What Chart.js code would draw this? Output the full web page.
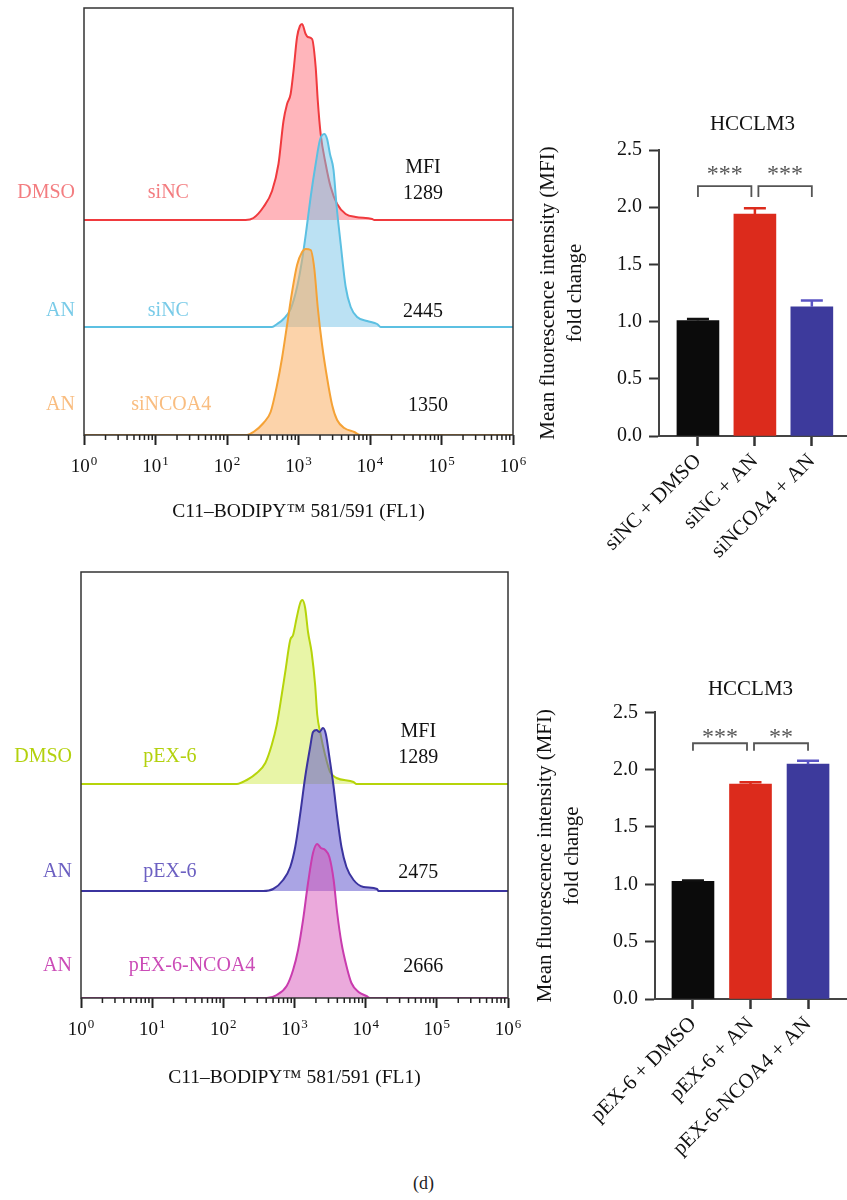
<!DOCTYPE html>
<html>
<head>
<meta charset="utf-8">
<script src="https://cdn.jsdelivr.net/npm/chart.js@4.4.1/dist/chart.umd.min.js"></script>
<style>
    body {
        margin: 0;
        background: #fff;
        width: 847px;
        height: 1200px;
        position: relative;
        overflow: hidden;
        font-family: "Liberation Serif", serif;
    }
    canvas {
        position: absolute;
    }
    #caption {
        position: absolute;
        left: 0;
        width: 847px;
        top: 1173px;
        text-align: center;
        font-size: 18px;
        color: #222;
    }
</style>
</head>
<body>

<canvas id="histTop" width="530" height="540" style="left:0;top:0"></canvas>
<canvas id="barTop" width="317" height="470" style="left:530px;top:100px"></canvas>
<canvas id="histBottom" width="530" height="540" style="left:0;top:560px"></canvas>
<canvas id="barBottom" width="317" height="500" style="left:530px;top:660px"></canvas>
<div id="caption">(d)</div>

<script>

// ---- data ----

// decades of the FL1 axis, drawn as 10^n
const decadeExponents = ["0", "1", "2", "3", "4", "5", "6"];

// flow histograms: x = log10(FL1), y = event count (a.u.)
const dmsoSiNC_x = [2.26, 2.37, 2.51, 2.63, 2.72, 2.79, 2.84, 2.89, 2.93, 2.98, 3.02, 3.05, 3.10, 3.13, 3.19, 3.24, 3.27, 3.31, 3.38, 3.45, 3.54, 3.66, 3.80, 4.03, 4.06];
const dmsoSiNC_y = [0, 2, 13, 29, 56, 99, 116, 126, 149, 183, 194, 196, 186, 183, 181, 153, 119, 86, 56, 33, 16, 6, 3, 1, 0];

const anSiNC_x = [2.63, 2.70, 2.79, 2.89, 2.98, 3.05, 3.11, 3.17, 3.24, 3.30, 3.36, 3.40, 3.44, 3.49, 3.53, 3.59, 3.66, 3.73, 3.82, 3.96, 4.10, 4.15];
const anSiNC_y = [0, 3, 8, 18, 40, 67, 97, 130, 163, 187, 193, 188, 173, 157, 123, 83, 40, 20, 10, 6, 3, 0];

const anSiNCOA4_x = [2.28, 2.37, 2.51, 2.61, 2.70, 2.77, 2.84, 2.91, 2.98, 3.05, 3.10, 3.17, 3.22, 3.27, 3.33, 3.40, 3.47, 3.54, 3.64, 3.78, 3.87];
const anSiNCOA4_y = [0, 3, 12, 23, 50, 77, 110, 143, 170, 183, 186, 185, 167, 127, 90, 57, 30, 15, 7, 3, 0];

const dmsoPEX_x = [2.19, 2.33, 2.47, 2.59, 2.68, 2.75, 2.82, 2.87, 2.94, 2.98, 3.03, 3.08, 3.11, 3.15, 3.19, 3.24, 3.29, 3.32, 3.36, 3.43, 3.50, 3.59, 3.83, 3.87];
const dmsoPEX_y = [0, 4, 11, 21, 39, 59, 89, 112, 144, 149, 166, 181, 184, 176, 152, 132, 99, 69, 52, 29, 12, 6, 2, 0];

const anPEX_x = [2.56, 2.70, 2.84, 2.94, 3.01, 3.08, 3.15, 3.22, 3.26, 3.31, 3.35, 3.40, 3.44, 3.49, 3.55, 3.60, 3.66, 3.73, 3.83, 3.97, 4.16, 4.18];
const anPEX_y = [0, 2, 11, 24, 44, 77, 114, 144, 159, 161, 159, 163, 157, 134, 104, 74, 44, 24, 11, 4, 2, 0];

const anPEXNCOA4_x = [2.61, 2.75, 2.89, 2.98, 3.05, 3.12, 3.19, 3.26, 3.32, 3.37, 3.43, 3.49, 3.55, 3.60, 3.66, 3.73, 3.80, 3.90, 4.01, 4.06];
const anPEXNCOA4_y = [0, 3, 12, 28, 48, 78, 115, 145, 154, 150, 148, 141, 118, 85, 55, 32, 15, 6, 2, 0];

const mfiTop = ["1289", "2445", "1350"];
const mfiBottom = ["1289", "2475", "2666"];

// bar charts
const barCatsTop = ["siNC + DMSO", "siNC + AN", "siNCOA4 + AN"];
const barMeansTop = [1.01, 1.94, 1.13];
const barErrTop = [0.013, 0.05, 0.055];
const sigTop = ["***", "***"];

const barCatsBottom = ["pEX-6 + DMSO", "pEX-6 + AN", "pEX-6-NCOA4 + AN"];
const barMeansBottom = [1.025, 1.875, 2.048];
const barErrBottom = [0.008, 0.015, 0.03];
const sigBottom = ["***", "**"];

const yTicks = [0, 0.5, 1.0, 1.5, 2.0, 2.5];

// ---- styling ----

const FONT = "'Liberation Serif', 'Times New Roman', serif";
const barColors = ["#0b0b0b", "#dc2b1c", "#3d3a9c"];
const errColors = ["#111111", "#dc2b1c", "#5a54c4"];


function curve(xs, ys, base) {

    const pts = [{x: 0, y: base}];

    xs.forEach((x, i) => {
        pts.push({x: x, y: base + ys[i]});
    });

    pts.push({x: 6, y: base});

    return pts;
}

function histSet(xs, ys, base, line, fill) {

    return {
        data: curve(xs, ys, base),
        borderColor: line,
        backgroundColor: fill,
        borderWidth: 2,
        pointRadius: 0,
        cubicInterpolationMode: "monotone",
        fill: {value: base},
    };
}


// frame, log ticks labels, minor ticks and the sample / MFI text
const histDecor = {

    id: "histDecor",

    afterDatasetsDraw(chart, args, opts) {

        const ctx = chart.ctx;
        const area = chart.chartArea;
        const xs = chart.scales.x;
        const ys = chart.scales.y;

        ctx.save();

        ctx.strokeStyle = "#333";
        ctx.lineWidth = 1.5;
        ctx.strokeRect(area.left, area.top, area.right - area.left, area.bottom - area.top);

        // minor decade ticks
        ctx.strokeStyle = "#222";
        ctx.lineWidth = 1.5;
        for (let d = 0; d < 6; d++) {
            for (let k = 2; k <= 9; k++) {
                const px = xs.getPixelForValue(d + Math.log10(k));
                ctx.beginPath();
                ctx.moveTo(px, area.bottom);
                ctx.lineTo(px, area.bottom + 5);
                ctx.stroke();
            }
        }

        // 10^n labels
        ctx.fillStyle = "#111";
        ctx.textAlign = "left";
        ctx.textBaseline = "alphabetic";
        const base = area.bottom + 37;
        decadeExponents.forEach((e, i) => {
            ctx.font = "19px " + FONT;
            const w1 = ctx.measureText("10").width;
            ctx.font = "13px " + FONT;
            const w2 = ctx.measureText(e).width;
            const x0 = xs.getPixelForValue(i) - (w1 + w2 + 1) / 2;
            ctx.font = "19px " + FONT;
            ctx.fillText("10", x0, base);
            ctx.font = "13px " + FONT;
            ctx.fillText(e, x0 + w1 + 1, base - 7);
        });

        ctx.font = "20px " + FONT;
        ctx.textBaseline = "middle";

        opts.rows.forEach((row) => {

            const y = ys.getPixelForValue(row.textY);

            ctx.fillStyle = row.color;
            ctx.textAlign = "right";
            ctx.fillText(row.group, area.left - 9, y);

            ctx.textAlign = "center";
            ctx.fillText(row.sample, xs.getPixelForValue(row.sampleX), y);

            ctx.fillStyle = "#111";
            ctx.fillText(row.mfi, xs.getPixelForValue(row.mfiX), y + 1);

            if (row.header) {
                ctx.fillText("MFI", xs.getPixelForValue(row.mfiX), y - 25);
            }
        });

        ctx.restore();
    },
};


function histogram(id, sets, rows, yMax, pad, axisHeight, titlePad) {

    return new Chart(document.getElementById(id), {

        type: "line",

        data: {datasets: sets},

        options: {

            responsive: false,
            animation: false,

            layout: {padding: pad},

            plugins: {
                legend: {display: false},
                tooltip: {enabled: false},
                histDecor: {rows: rows},
            },

            scales: {

                x: {
                    type: "linear",
                    min: 0,
                    max: 6,
                    afterBuildTicks: (scale) => {
                        scale.ticks = decadeExponents.map((_, i) => ({value: i}));
                    },
                    afterFit: (scale) => {
                        scale.height = axisHeight;
                    },
                    ticks: {display: false},
                    grid: {
                        drawOnChartArea: false,
                        tickLength: 10,
                        tickWidth: 2,
                        tickColor: "#222",
                    },
                    border: {display: false},
                    title: {
                        display: true,
                        text: "C11–BODIPY™ 581/591 (FL1)",
                        color: "#111",
                        font: {family: FONT, size: 19.5},
                        padding: {top: 0, bottom: titlePad},
                    },
                },

                y: {
                    display: false,
                    min: 0,
                    max: yMax,
                },
            },
        },

        plugins: [histDecor],
    });
}


// error bars + significance brackets
const barDecor = {

    id: "barDecor",

    afterDatasetsDraw(chart, args, opts) {

        const ctx = chart.ctx;
        const xs = chart.scales.x;
        const ys = chart.scales.y;
        const meta = chart.getDatasetMeta(0);

        ctx.save();

        meta.data.forEach((bar, i) => {

            const top = ys.getPixelForValue(opts.means[i] + opts.errs[i]);

            ctx.strokeStyle = errColors[i];
            ctx.lineWidth = 2.5;
            ctx.beginPath();
            ctx.moveTo(bar.x, bar.y);
            ctx.lineTo(bar.x, top);
            ctx.moveTo(bar.x - 11, top);
            ctx.lineTo(bar.x + 11, top);
            ctx.stroke();
        });

        ctx.strokeStyle = "#555";
        ctx.fillStyle = "#555";
        ctx.lineWidth = 1.8;
        ctx.font = "24px " + FONT;
        ctx.textAlign = "center";
        ctx.textBaseline = "alphabetic";

        opts.stars.forEach((txt, i) => {

            const x1 = xs.getPixelForValue(i) + (i === 1 ? 3.5 : 0);
            const x2 = xs.getPixelForValue(i + 1) - (i === 0 ? 3.5 : 0);
            const yh = ys.getPixelForValue(opts.bracket[0]);
            const yl = ys.getPixelForValue(opts.bracket[1]);

            ctx.beginPath();
            ctx.moveTo(x1, yl);
            ctx.lineTo(x1, yh);
            ctx.lineTo(x2, yh);
            ctx.lineTo(x2, yl);
            ctx.stroke();

            ctx.fillText(txt, (x1 + x2) / 2, ys.getPixelForValue(opts.bracket[2]) + 13);
        });

        ctx.restore();
    },
};


function barChart(id, cats, means, errs, stars, cfg) {

    return new Chart(document.getElementById(id), {

        type: "bar",

        data: {
            datasets: [{
                data: means.map((m, i) => ({x: i, y: m})),
                backgroundColor: barColors,
                borderWidth: 0,
                barThickness: 42,
            }],
        },

        options: {

            responsive: false,
            animation: false,

            layout: {padding: {left: 0, right: 1, top: 0, bottom: 0}},

            plugins: {
                legend: {display: false},
                tooltip: {enabled: false},
                title: {
                    display: true,
                    fullSize: false,
                    text: "HCCLM3",
                    color: "#111",
                    font: {family: FONT, size: 21, weight: "normal"},
                    padding: cfg.titlePad,
                },
                barDecor: {means: means, errs: errs, stars: stars, bracket: cfg.bracket},
            },

            scales: {

                x: {
                    type: "linear",
                    offset: false,
                    min: cfg.xMin,
                    max: cfg.xMax,
                    afterBuildTicks: (scale) => {
                        scale.ticks = cats.map((_, i) => ({value: i}));
                    },
                    afterFit: (scale) => {
                        scale.height = cfg.axisHeight;
                    },
                    ticks: {
                        autoSkip: false,
                        minRotation: 45,
                        maxRotation: 45,
                        padding: 3,
                        color: "#111",
                        font: {family: FONT, size: 21},
                        callback: (v) => cats[v],
                    },
                    grid: {
                        offset: false,
                        drawOnChartArea: false,
                        tickLength: 10,
                        tickWidth: 2.5,
                        tickColor: "#333",
                    },
                    border: {color: "#444", width: 2},
                },

                y: {
                    min: 0,
                    max: 2.5,
                    afterBuildTicks: (scale) => {
                        scale.ticks = yTicks.map((v) => ({value: v}));
                    },
                    afterFit: (scale) => {
                        scale.width = cfg.axisWidth;
                    },
                    ticks: {
                        padding: 7,
                        color: "#111",
                        font: {family: FONT, size: 20},
                        callback: (v) => v.toFixed(1),
                    },
                    grid: {
                        drawOnChartArea: false,
                        tickLength: 10,
                        tickWidth: 2,
                        tickColor: "#333",
                    },
                    border: {color: "#444", width: 2},
                    title: {
                        display: true,
                        text: ["Mean fluorescence intensity (MFI)", "fold change"],
                        color: "#111",
                        font: {family: FONT, size: 21, lineHeight: 1.3},
                        padding: {top: cfg.yTitlePad, bottom: 0},
                    },
                },
            },
        },

        plugins: [barDecor],
    });
}


histogram(
    "histTop",
    [
        histSet(anSiNCOA4_x, anSiNCOA4_y, 0, "#f5a236", "rgba(250, 175, 100, 0.55)"),
        histSet(anSiNC_x, anSiNC_y, 108, "#5cc0e2", "rgba(120, 195, 232, 0.5)"),
        histSet(dmsoSiNC_x, dmsoSiNC_y, 215, "#f03a3e", "rgba(255, 120, 132, 0.55)"),
    ],
    [
        {group: "DMSO", sample: "siNC", mfi: mfiTop[0], color: "#f37d80", textY: 242, sampleX: 1.18, mfiX: 4.74, header: true},
        {group: "AN", sample: "siNC", mfi: mfiTop[1], color: "#79cbe8", textY: 124, sampleX: 1.18, mfiX: 4.74},
        {group: "AN", sample: "siNCOA4", mfi: mfiTop[2], color: "#f9bd80", textY: 30, sampleX: 1.22, mfiX: 4.81},
    ],
    427,
    {left: 84, right: 17, top: 8, bottom: 0},
    105,
    16
);

histogram(
    "histBottom",
    [
        histSet(anPEXNCOA4_x, anPEXNCOA4_y, 0, "#c93cae", "rgba(215, 85, 185, 0.5)"),
        histSet(anPEX_x, anPEX_y, 107, "#3b349f", "rgba(100, 90, 205, 0.55)"),
        histSet(dmsoPEX_x, dmsoPEX_y, 214, "#b6d40a", "rgba(210, 235, 80, 0.5)"),
    ],
    [
        {group: "DMSO", sample: "pEX-6", mfi: mfiBottom[0], color: "#b3d10d", textY: 241, sampleX: 1.25, mfiX: 4.74, header: true},
        {group: "AN", sample: "pEX-6", mfi: mfiBottom[1], color: "#6c60c2", textY: 126, sampleX: 1.25, mfiX: 4.74},
        {group: "AN", sample: "pEX-6-NCOA4", mfi: mfiBottom[2], color: "#cb4cb7", textY: 32, sampleX: 1.56, mfiX: 4.81},
    ],
    426,
    {left: 81, right: 22, top: 12, bottom: 0},
    102,
    10
);

barChart("barTop", barCatsTop, barMeansTop, barErrTop, sigTop, {
    xMin: -0.684,
    xMax: 2.6,
    axisWidth: 129,
    axisHeight: 134,
    yTitlePad: 4.4,
    titlePad: {top: 12, bottom: 12.8},
    bracket: [2.185, 2.09, 2.34],
});

barChart("barBottom", barCatsBottom, barMeansBottom, barErrBottom, sigBottom, {
    xMin: -0.66,
    xMax: 2.66,
    axisWidth: 125,
    axisHeight: 161,
    yTitlePad: 1.4,
    titlePad: {top: 16.4, bottom: 10.7},
    bracket: [2.23, 2.165, 2.34],
});

</script>
</body>
</html>
